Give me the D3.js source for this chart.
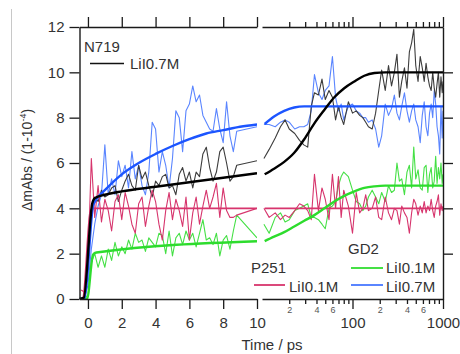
<!DOCTYPE html>
<html><head><meta charset="utf-8">
<script src="https://cdn.jsdelivr.net/npm/d3@7"></script>
<style>body{margin:0;background:#fff}svg{display:block}text{font-family:"Liberation Sans",Arial,Helvetica,sans-serif}</style>
</head><body><svg id="c" width="460" height="354"></svg>
<script>
// ---------- data ----------
const tLin = [-0.4,-0.2,0,0.2,0.4,0.6,0.8,1.0,1.2,1.4,1.6,1.8,2.0,2.2,2.4,2.6,2.8,3.0,3.2,3.4,3.6,3.8,4.0,4.2,4.4,4.6,4.8,5.0,5.2,5.4,5.6,5.8,6.0,6.2,6.4,6.6,6.8,7.0,7.2,7.4,7.6,7.8,8.0,8.2,8.4,8.6,8.8,10];
const tLog = [10.5,12,14,16,18,20,23,26,29,32,35,38,42,46,50,55,60,65,70,75,80,90,100,110,120,130,140,150,165,180,195,210,230,250,270,290,310,330,350,375,400,425,450,475,500,530,560,590,620,650,680,710,740,770,800,830,860,890,920,950,980,1000];

const n719Lin = [0,0.1,1.4,3.6,4.5,4.3,4.8,4.5,4.6,4.9,5.0,4.3,4.8,5.2,5.5,5.0,4.8,5.9,5.3,5.6,5.0,4.5,5.2,5.0,5.4,5.5,4.9,5.0,4.6,5.5,5.8,5.2,5.6,4.9,5.6,5.4,6.4,6.7,5.8,5.2,5.6,6.5,6.7,6.0,5.2,5.4,5.9,6.1];
const gd2HiLin = [0,0.1,0.6,2.2,3.3,4.1,4.6,6.8,4.6,5.3,4.6,6.1,5.4,5.9,4.9,6.5,5.3,5.9,5.0,4.6,5.6,7.8,7.5,5.6,6.5,5.9,4.9,6.2,8.3,8.0,6.5,8.3,8.6,9.4,8.7,9.0,8.1,7.8,7.5,7.4,8.4,7.5,6.9,8.7,7.2,6.5,7.4,7.6];
const p251Lin = [0.4,0.3,1.6,6.2,3.6,5.0,3.4,4.4,3.9,3.0,4.3,4.6,3.5,4.7,4.1,3.3,2.9,4.2,4.5,3.2,4.1,4.8,4.3,3.3,2.6,3.9,4.7,3.5,4.4,3.9,3.2,4.5,2.6,3.8,4.5,3.3,4.1,4.8,4.0,4.5,5.1,3.6,4.9,3.9,3.6,3.6,3.7,4.0];
const gd2LoLin = [0,0,0.2,1.6,2.0,1.4,1.9,1.4,2.2,1.7,2.5,1.9,2.3,2.0,2.6,2.2,2.9,2.5,2.6,2.1,2.7,2.5,2.3,2.9,2.8,2.0,3.0,1.9,2.7,2.9,2.4,3.0,2.6,2.9,2.3,2.9,3.5,2.6,2.7,2.4,2.9,1.9,2.6,2.8,2.2,3.0,3.7,2.7];

const n719Log = [6.2,6.6,7.1,7.6,7.9,7.5,7.3,7.0,6.8,6.7,8.5,9.1,9.0,9.7,8.8,9.2,8.9,7.9,8.5,8.0,7.7,8.7,8.2,8.3,8.1,8.0,7.8,7.6,7.5,8.2,9.2,10.1,9.2,10.3,9.4,10.0,10.8,8.9,9.6,10.2,9.3,10.9,11.3,11.9,10.3,9.6,10.7,10.2,9.6,10.4,9.8,9.4,9.2,10.0,9.3,8.9,9.5,10.0,8.9,9.8,9.1,9.6];
const gd2HiLog = [7.7,7.7,7.6,7.8,7.9,7.8,7.5,7.6,7.6,7.7,8.3,9.9,9.1,8.8,9.2,9.4,10.7,8.9,8.3,8.6,7.9,8.5,8.6,8.3,8.2,8.0,8.0,7.8,7.9,7.5,6.7,7.2,8.6,8.1,8.4,9.0,8.2,7.9,8.5,9.1,8.3,7.8,8.3,8.6,7.9,7.6,6.9,8.1,8.7,7.6,7.2,8.2,8.6,8.0,9.2,8.6,7.6,7.2,6.4,8.5,7.1,8.3];
const p251Log = [4.0,3.6,3.8,3.5,3.7,3.6,3.9,4.2,4.1,3.9,3.5,5.5,3.9,4.9,4.4,3.5,5.5,4.0,5.4,3.6,4.8,4.1,2.9,4.7,3.8,4.0,4.6,3.9,4.0,4.5,3.6,3.5,4.5,3.8,3.5,4.0,3.9,3.3,4.1,3.8,3.6,2.9,3.8,4.4,4.2,3.7,4.1,3.8,4.3,3.8,4.1,3.9,4.4,3.9,3.6,4.1,4.3,4.6,3.7,4.2,3.9,4.1];
const gd2LoLog = [3.3,2.9,3.6,3.8,3.4,3.5,3.9,4.0,4.1,4.2,3.6,3.6,3.5,3.3,3.1,4.0,4.1,4.3,5.0,5.4,5.6,5.4,4.8,4.3,4.2,3.9,4.1,4.5,4.8,4.5,4.2,4.7,4.3,5.0,4.7,4.8,6.0,5.2,5.3,4.6,5.6,5.9,4.9,6.7,5.3,5.7,4.9,4.8,5.8,5.9,4.7,5.5,5.8,4.9,5.2,6.3,5.1,5.8,5.3,6.0,5.1,5.5];

// fitted curves
const n719FitLinT = [-0.5,-0.25,0.25,0.4,1,2,4,6,8,10];
const n719FitLinV = [0,0.05,4.2,4.45,4.6,4.75,4.95,5.15,5.35,5.55];
const gd2HiFitLinT = [-0.5,-0.2,0.3,0.5,1,2,3,4,5,6,7,8,9,10];
const gd2HiFitLinV = [0,0.05,4.1,4.4,4.8,5.5,6.0,6.4,6.75,7.05,7.3,7.45,7.6,7.7];
const p251FitLinT = [-0.5,-0.3,0.15,0.3,10];
const p251FitLinV = [0,0.05,3.9,4.0,4.0];
const gd2LoFitLinT = [-0.5,-0.05,0.3,0.5,10];
const gd2LoFitLinV = [0,0.02,1.95,2.05,2.55];

const n719FitLogT = [10.7,13.6,17.6,22.7,29.3,37.9,49,63,81,105,135,175,230,293,400,1000];
const n719FitLogV = [5.5,5.75,6.05,6.45,7.05,7.75,8.35,8.9,9.3,9.6,9.85,9.97,10.0,10.0,10.0,10.0];
const gd2HiFitLogT = [10.7,13.6,17.6,22.7,29.3,37.9,63,1000];
const gd2HiFitLogV = [7.72,8.05,8.3,8.45,8.5,8.5,8.5,8.5];
const p251FitLogT = [10.7,1000];
const p251FitLogV = [4.0,4.0];
const gd2LoFitLogT = [10.7,13.6,17.6,22.7,29.3,37.9,49,63,81,105,135,175,230,293,1000];
const gd2LoFitLogV = [2.55,2.75,2.95,3.2,3.45,3.7,4.0,4.3,4.55,4.75,4.9,4.97,5.0,5.0,5.0];

const yTicks = [0,2,4,6,8,10,12];
const xLinTicks = [0,2,4,6,8,10];
const xLogMajor = [100,1000];
const xLogMinor = [20,30,40,50,60,70,80,90,200,300,400,500,600,700,800,900];
const xLogMinorLabels = {20:"2",40:"4",60:"6",200:"2",400:"4",600:"6"};

// ---------- layout ----------
const svg = d3.select("#c");
const xLin = d3.scaleLinear().domain([-0.5,10]).range([79.5,257]);
const xLog = d3.scaleLog().domain([10,1000]).range([262,443]);
const y = d3.scaleLinear().domain([0,12]).range([299,27]);

const COL = {
  blackData:"#3c3c3c", blackFit:"#000000",
  blueData:"#5a85ff", blueFit:"#1c55ff",
  redData:"#d7356d", redFit:"#d7356d",
  greenData:"#45e045", greenFit:"#2ddc2d"
};

// decorative gray frame line on the left
svg.append("line").attr("x1",11.5).attr("x2",11.5).attr("y1",9).attr("y2",354)
  .attr("stroke","#c8c8c8").attr("stroke-width",1);

const defs = svg.append("defs");
defs.append("clipPath").attr("id","clipLin").append("rect")
  .attr("x",79.5).attr("y",27).attr("width",257-79.5).attr("height",272);
defs.append("clipPath").attr("id","clipLog").append("rect")
  .attr("x",262).attr("y",27).attr("width",443-262).attr("height",272);

function drawLine(g, xs, ts, vs, color, width){
  const pts = ts.map((t,i)=>[t,vs[i]]);
  g.append("path").datum(pts)
    .attr("fill","none").attr("stroke",color).attr("stroke-width",width)
    .attr("stroke-linejoin","round")
    .attr("d", d3.line().x(d=>xs(d[0])).y(d=>y(d[1])));
}
function drawFit(g, xs, ts, vs, color, width){
  const pts = ts.map((t,i)=>[t,vs[i]]);
  g.append("path").datum(pts)
    .attr("fill","none").attr("stroke",color).attr("stroke-width",width)
    .attr("d", d3.line().curve(d3.curveMonotoneX).x(d=>xs(d[0])).y(d=>y(d[1])));
}

const gLin = svg.append("g").attr("clip-path","url(#clipLin)");
const gLog = svg.append("g").attr("clip-path","url(#clipLog)");

// data traces
drawLine(gLin, xLin, tLin, gd2LoLin, COL.greenData, 1.1);
drawLine(gLin, xLin, tLin, gd2HiLin, COL.blueData, 1.1);
drawLine(gLin, xLin, tLin, n719Lin, COL.blackData, 1.1);
drawLine(gLin, xLin, tLin, p251Lin, COL.redData, 1.1);
drawLine(gLog, xLog, tLog, gd2LoLog, COL.greenData, 1.1);
drawLine(gLog, xLog, tLog, gd2HiLog, COL.blueData, 1.1);
drawLine(gLog, xLog, tLog, n719Log, COL.blackData, 1.1);
drawLine(gLog, xLog, tLog, p251Log, COL.redData, 1.1);

// fits
drawFit(gLin, xLin, p251FitLinT, p251FitLinV, COL.redFit, 1.8);
drawFit(gLin, xLin, gd2LoFitLinT, gd2LoFitLinV, COL.greenFit, 2.4);
drawFit(gLin, xLin, gd2HiFitLinT, gd2HiFitLinV, COL.blueFit, 2.4);
drawFit(gLin, xLin, n719FitLinT, n719FitLinV, COL.blackFit, 2.4);
drawFit(gLog, xLog, p251FitLogT, p251FitLogV, COL.redFit, 1.8);
drawFit(gLog, xLog, gd2LoFitLogT, gd2LoFitLogV, COL.greenFit, 2.4);
drawFit(gLog, xLog, gd2HiFitLogT, gd2HiFitLogV, COL.blueFit, 2.4);
drawFit(gLog, xLog, n719FitLogT, n719FitLogV, COL.blackFit, 2.4);

// ---------- axes ----------
function styleAxis(g, fs){
  g.selectAll("path.domain").attr("stroke","#1a1a1a").attr("stroke-width",1.4);
  g.selectAll(".tick line").attr("stroke","#1a1a1a").attr("stroke-width",1.3);
  g.selectAll(".tick text").attr("fill","#333").attr("font-size",fs)
    .attr("font-family","'Liberation Sans',Arial,Helvetica,sans-serif");
}
// left
const gy = svg.append("g").attr("transform","translate(79.5,0)")
  .call(d3.axisLeft(y).tickValues(yTicks).tickSize(10).tickSizeOuter(0).tickPadding(5));
styleAxis(gy, 15);
// right
const gyr = svg.append("g").attr("transform","translate(443,0)")
  .call(d3.axisRight(y).tickValues(yTicks.slice(1,6)).tickSize(10).tickSizeOuter(0).tickFormat(""));
styleAxis(gyr, 15);

// bottom linear
const gxb = svg.append("g").attr("transform","translate(0,299)")
  .call(d3.axisBottom(xLin).tickValues(xLinTicks).tickSize(10).tickSizeOuter(0).tickPadding(8));
styleAxis(gxb, 15);
// bottom log major
const gxbl = svg.append("g").attr("transform","translate(0,299)")
  .call(d3.axisBottom(xLog).tickValues(xLogMajor).tickSize(10).tickSizeOuter(0).tickPadding(8).tickFormat(d3.format("d")));
styleAxis(gxbl, 15);
// bottom log minor
const gxbm = svg.append("g").attr("transform","translate(0,299)")
  .call(d3.axisBottom(xLog).tickValues(xLogMinor).tickSize(5).tickSizeOuter(0).tickPadding(3).tickFormat(d=>xLogMinorLabels[d]||""));
gxbm.select("path.domain").remove();
styleAxis(gxbm, 9);
gxbm.selectAll(".tick text").attr("fill","#555");

// top
const gxt = svg.append("g").attr("transform","translate(0,27)")
  .call(d3.axisTop(xLin).tickValues(xLinTicks).tickSize(10).tickSizeOuter(0).tickFormat(""));
styleAxis(gxt, 15);
const gxtl = svg.append("g").attr("transform","translate(0,27)")
  .call(d3.axisTop(xLog).tickValues(xLogMajor).tickSize(10).tickSizeOuter(0).tickFormat(""));
styleAxis(gxtl, 15);
const gxtm = svg.append("g").attr("transform","translate(0,27)")
  .call(d3.axisTop(xLog).tickValues(xLogMinor).tickSize(5).tickSizeOuter(0).tickFormat(""));
gxtm.select("path.domain").remove();
styleAxis(gxtm, 9);

// axis titles
svg.append("text").attr("x",272).attr("y",350).attr("text-anchor","middle")
  .attr("font-size",15).attr("fill","#333").text("Time / ps");
const yt = svg.append("text").attr("transform","translate(32,160) rotate(-90)")
  .attr("text-anchor","middle").attr("font-size",14).attr("fill","#333");
yt.append("tspan").text("\u0394mAbs / (1-10");
yt.append("tspan").attr("dy",-6).attr("font-size",9).text("-4");
yt.append("tspan").attr("dy",6).text(")");

// ---------- legends ----------
function legText(x,yb,t){
  svg.append("text").attr("x",x).attr("y",yb).attr("font-size",15).attr("fill","#333").text(t);
}
function legLine(x1,x2,yy,c,w){
  svg.append("line").attr("x1",x1).attr("x2",x2).attr("y1",yy).attr("y2",yy)
    .attr("stroke",c).attr("stroke-width",w);
}
legText(84,52,"N719");
legLine(90,124,63.5,"#111",1.6);
legText(130,69,"LiI0.7M");

legText(251,273,"P251");
legLine(254,285,285,COL.redData,1.8);
legText(289,292,"LiI0.1M");

legText(348,254,"GD2");
legLine(351,383,268,COL.greenData,2);
legText(386,273,"LiI0.1M");
legLine(351,383,285,COL.blueData,2);
legText(386,292,"LiI0.7M");
</script></body></html>
